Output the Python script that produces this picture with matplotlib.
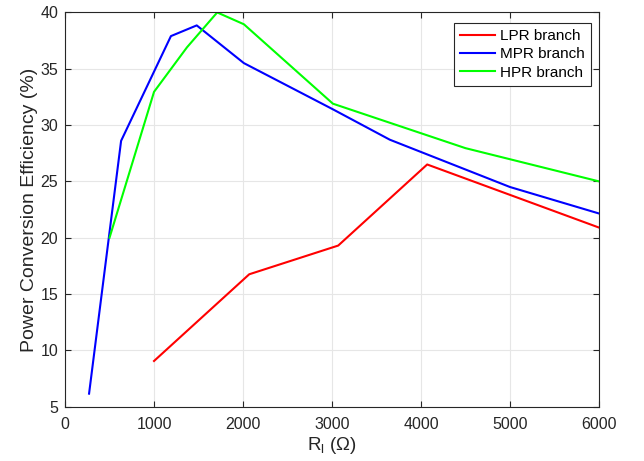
import matplotlib
matplotlib.use("Agg")
import matplotlib.pyplot as plt

plt.rcParams["font.family"] = ["Liberation Sans", "DejaVu Sans"]

# load resistance (ohm) and efficiency (%) per branch
lpr_r = [1000, 2070, 3070, 4070, 6000]
lpr_eff = [9.05, 16.75, 19.3, 26.5, 20.9]

mpr_r = [270, 630, 1190, 1480, 2010, 3010, 3650, 5000, 6000]
mpr_eff = [6.15, 28.6, 37.9, 38.85, 35.5, 31.4, 28.7, 24.5, 22.15]

hpr_r = [500, 1000, 1370, 1710, 2010, 3010, 4500, 6000]
hpr_eff = [20.0, 32.95, 36.9, 40.0, 38.95, 31.9, 27.95, 25.0]

fig = plt.figure(figsize=(6.44, 4.61), dpi=100)
ax = fig.add_axes([0.101, 0.118, 0.829, 0.855])

ax.plot(lpr_r, lpr_eff, color="#ff0000", lw=1.5, label="LPR branch")
ax.plot(mpr_r, mpr_eff, color="#0000ff", lw=1.5, label="MPR branch")
ax.plot(hpr_r, hpr_eff, color="#00ff00", lw=1.5, label="HPR branch")

ax.set_xlim(0, 6000)
ax.set_ylim(5, 40)
ax.set_xticks(range(0, 6001, 1000))
ax.set_yticks(range(5, 41, 5))
ax.grid(True, color="#e6e6e6", lw=0.8)
ax.set_axisbelow(True)
ax.tick_params(direction="in", top=True, right=True, labelsize=11.5,
               colors="#262626", length=4)
ax.tick_params(axis="x", pad=7.5)
ax.tick_params(axis="y", pad=5)
for s in ax.spines.values():
    s.set_color("#262626")
    s.set_linewidth(0.8)

ax.set_xlabel(r"R$_\mathregular{l}$ ($\mathregular{\Omega}$)", fontsize=13.5,
              color="#262626", labelpad=2.5)
ax.set_ylabel("Power Conversion Efficiency (%)", fontsize=14, color="#262626",
              labelpad=1.5)

leg = ax.legend(loc="upper right", fontsize=11, fancybox=False, framealpha=1,
                edgecolor="#262626", handlelength=2.3, handletextpad=0.3,
                borderpad=0.4, labelspacing=0.28, borderaxespad=0,
                bbox_to_anchor=(0.985, 0.973))
leg.get_frame().set_linewidth(0.8)

fig.savefig("out.png", dpi=100)
